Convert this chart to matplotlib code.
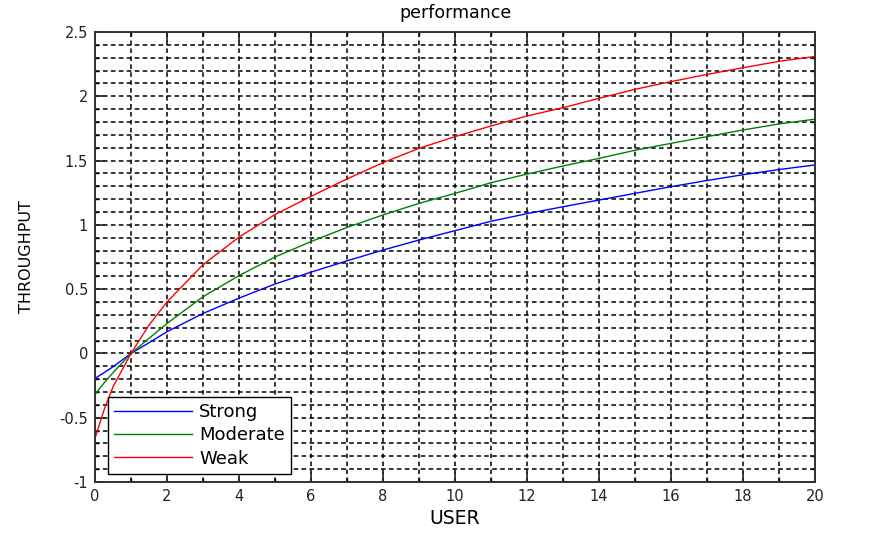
import matplotlib
matplotlib.use("Agg")
import matplotlib.pyplot as plt
from matplotlib.ticker import MultipleLocator

users = [0, 0.25, 0.5, 1, 1.5, 2, 3, 4, 5, 6, 7, 8, 9, 10, 11, 12, 13, 14, 15, 16, 17, 18, 19, 20]
strong = [-0.194, -0.15, -0.104, 0.0, 0.083, 0.169, 0.311, 0.43, 0.54, 0.632, 0.72, 0.804, 0.882,
          0.955, 1.028, 1.087, 1.141, 1.193, 1.245, 1.297, 1.345, 1.39, 1.43, 1.466]
moderate = [-0.32, -0.23, -0.15, 0.0, 0.117, 0.233, 0.441, 0.605, 0.75, 0.87, 0.98, 1.077, 1.167,
            1.245, 1.328, 1.395, 1.458, 1.517, 1.58, 1.634, 1.686, 1.738, 1.785, 1.822]
weak = [-0.66, -0.44, -0.26, 0.0, 0.22, 0.40, 0.69, 0.905, 1.08, 1.222, 1.357, 1.484, 1.595,
        1.686, 1.769, 1.847, 1.911, 1.984, 2.054, 2.114, 2.17, 2.222, 2.272, 2.31]
series_names = ["Strong", "Moderate", "Weak"]
series_colors = ["#0000ff", "#008000", "#ff0000"]
ytick_vals = [-1, -0.5, 0, 0.5, 1, 1.5, 2, 2.5]
ytick_labels = ["-1", "-0.5", "0", "0.5", "1", "1.5", "2", "2.5"]

plt.rcParams['font.family'] = ['DejaVu Sans']

fig = plt.figure(figsize=(8.72, 5.34), dpi=100)
ax = fig.add_axes([95/872, 1-482/534, 720/872, 450/534])

for ys, name, col in zip([strong, moderate, weak], series_names, series_colors):
    ax.plot(users, ys, color=col, lw=1.0, label=name)

ax.set_xlim(0, 20)
ax.set_ylim(-1, 2.5)
ax.xaxis.set_major_locator(MultipleLocator(2))
ax.xaxis.set_minor_locator(MultipleLocator(1))
ax.yaxis.set_minor_locator(MultipleLocator(0.1))
ax.set_yticks(ytick_vals)
ax.set_yticklabels(ytick_labels)

ax.grid(True, which='both', color='black', linestyle=(0, (3, 2.2)), linewidth=1.1)
ax.set_axisbelow(True)
ax.tick_params(which='major', direction='in', length=7, width=1.2, top=True, right=True,
               labelsize=10.5, colors='#222222', pad=5)
ax.tick_params(which='minor', direction='in', length=3, width=1.0, top=True, right=True)
for s in ax.spines.values():
    s.set_linewidth(1.4)
    s.set_color('#333333')

ax.set_title("performance", fontsize=12.5, pad=10)
ax.set_xlabel("USER", fontsize=13.5, labelpad=4)
ax.set_ylabel("THROUGHPUT", fontsize=11.5, labelpad=18)

leg = ax.legend(loc='lower left', bbox_to_anchor=(13/720, 8/450), borderaxespad=0,
                fontsize=13, fancybox=False, framealpha=1, edgecolor='black',
                handlelength=4.3, borderpad=0.35, labelspacing=0.3, handletextpad=0.4)
leg.get_frame().set_linewidth(1.0)

fig.savefig("out.png", dpi=100, facecolor='white')
